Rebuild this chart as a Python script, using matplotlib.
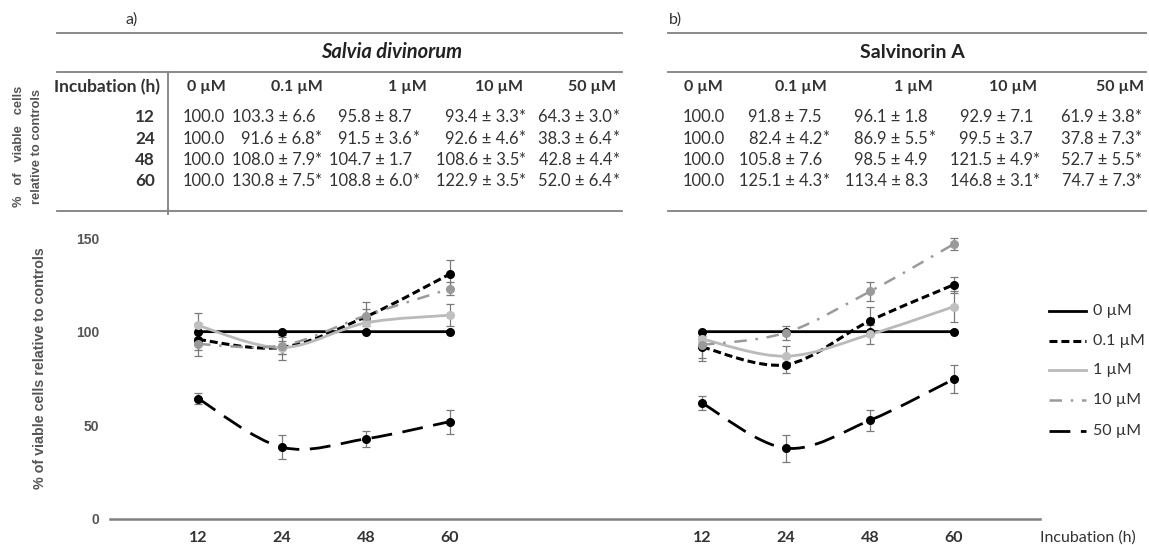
import numpy as np
import matplotlib
matplotlib.use('Agg')
import matplotlib.pyplot as plt
from matplotlib.lines import Line2D
from matplotlib.path import Path
from matplotlib.patches import PathPatch

# ---- data ----
hours = ['12', '24', '48', '60']
conc = ['0 µM', '0.1 µM', '1 µM', '10 µM', '50 µM']

# table text, one row per incubation time
sd_table = [
    ['100.0', '103.3 ± 6.6', '95.8 ± 8.7', '93.4 ± 3.3*', '64.3 ± 3.0*'],
    ['100.0', '91.6 ± 6.8*', '91.5 ± 3.6*', '92.6 ± 4.6*', '38.3 ± 6.4*'],
    ['100.0', '108.0 ± 7.9*', '104.7 ± 1.7', '108.6 ± 3.5*', '42.8 ± 4.4*'],
    ['100.0', '130.8 ± 7.5*', '108.8 ± 6.0*', '122.9 ± 3.5*', '52.0 ± 6.4*'],
]
sa_table = [
    ['100.0', '91.8 ± 7.5', '96.1 ± 1.8', '92.9 ± 7.1', '61.9 ± 3.8*'],
    ['100.0', '82.4 ± 4.2*', '86.9 ± 5.5*', '99.5 ± 3.7', '37.8 ± 7.3*'],
    ['100.0', '105.8 ± 7.6', '98.5 ± 4.9', '121.5 ± 4.9*', '52.7 ± 5.5*'],
    ['100.0', '125.1 ± 4.3*', '113.4 ± 8.3', '146.8 ± 3.1*', '74.7 ± 7.3*'],
]

# plotted values (one list per concentration, over the 4 times)
# left panel at 12 h: the chart shows the 0.1 / 1 µM points the other way round
sd_mean = [[100, 100, 100, 100],
           [95.8, 91.6, 108.0, 130.8],
           [103.3, 91.5, 104.7, 108.8],
           [93.4, 92.6, 108.6, 122.9],
           [64.3, 38.3, 42.8, 52.0]]
sd_err = [[0, 0, 0, 0],
          [8.7, 6.8, 7.9, 7.5],
          [6.6, 3.6, 1.7, 6.0],
          [3.3, 4.6, 3.5, 3.5],
          [3.0, 6.4, 4.4, 6.4]]
sa_mean = [[100, 100, 100, 100],
           [91.8, 82.4, 105.8, 125.1],
           [96.1, 86.9, 98.5, 113.4],
           [92.9, 99.5, 121.5, 146.8],
           [61.9, 37.8, 52.7, 74.7]]
sa_err = [[0, 0, 0, 0],
          [7.5, 4.2, 7.6, 4.3],
          [1.8, 5.5, 4.9, 8.3],
          [7.1, 3.7, 4.9, 3.1],
          [3.8, 7.3, 5.5, 7.3]]

# ---- styles ----
line_col = ['black', 'black', '#bababa', '#9a9a9a', 'black']
mark_col = ['black', 'black', '#c0c0c0', '#9a9a9a', 'black']
line_ls = ['-', (0, (2.6, 1.3)), '-', (0, (5, 3.5, 1, 3.5)), (0, (7.5, 3.8))]
line_lw = [2.0, 2.2, 2.0, 1.8, 2.0]

W, H = 1149, 545
TXT = '#333333'
GRID = '#808080'


def fx(x):
    return x / W


def fy(y):
    return 1 - y / H


def smooth(xs, ys):
    # excel style smoothed line through the points (bezier segments)
    pts = np.column_stack([xs, ys]).astype(float)
    n = len(pts)
    verts = [pts[0]]
    codes = [Path.MOVETO]
    for i in range(n - 1):
        p0 = pts[max(i - 1, 0)]
        p1 = pts[i]
        p2 = pts[i + 1]
        p3 = pts[min(i + 2, n - 1)]
        verts += [p1 + (p2 - p0) / 6, p2 - (p3 - p1) / 6, p2]
        codes += [Path.CURVE4] * 3
    return Path(verts, codes)


fig = plt.figure(figsize=(W / 100, H / 100), dpi=100)


def hline(y, x0, x1, **kw):
    style = dict(color=GRID, lw=1.3)
    style.update(kw)
    fig.add_artist(Line2D([fx(x0), fx(x1)], [fy(y), fy(y)], transform=fig.transFigure, **style))


def cell(x, y, s, bold=False):
    kw = dict(fontsize=11.9, family='Lato', color=TXT, va='center',
              weight='bold' if bold else 'normal')
    if s.endswith('*'):
        fig.text(fx(x), fy(y), s[:-1], ha='right', **kw)
        fig.text(fx(x + 0.5), fy(y), '*', ha='left', **kw)
    else:
        fig.text(fx(x), fy(y), s, ha='right', **kw)


row_y = [117, 138.5, 160, 181.5]

# ---- tables ----
tables = [
    dict(tab=sd_table, title='Salvia divinorum', italic=True, tx=392, x0=57, x1=622,
         lab='a)', lx=125, colx=[225, 315, 412, 519, 612], headx=[226, 323, 427, 523, 616]),
    dict(tab=sa_table, title='Salvinorin A', italic=False, tx=912, x0=668, x1=1146,
         lab='b)', lx=669, colx=[725, 822, 928, 1033, 1135], headx=[723, 827, 933, 1037, 1144]),
]
for t in tables:
    fig.text(fx(t['lx']), fy(20), t['lab'], fontsize=11.5, family='Lato', color=TXT,
             ha='left', va='center')
    for y in (33, 72, 211):
        hline(y, t['x0'], t['x1'])
    fig.text(fx(t['tx']), fy(52), t['title'], fontsize=14.5 if t['italic'] else 14,
             family='Lato', weight='bold',
             style='italic' if t['italic'] else 'normal', color='#222222',
             ha='center', va='center')
    for j, c in enumerate(conc):
        fig.text(fx(t['headx'][j]), fy(87), c, fontsize=11.5, family='Lato', weight='bold',
                 color=TXT, ha='right', va='center')
    for i, row in enumerate(t['tab']):
        for j, s in enumerate(row):
            cell(t['colx'][j], row_y[i], s)

fig.add_artist(Line2D([fx(168), fx(168)], [fy(72), fy(214)], color=GRID, lw=1.3,
                      transform=fig.transFigure))
fig.text(fx(160), fy(87), 'Incubation (h)', fontsize=12.5, family='Lato', weight='bold',
         color=TXT, ha='right', va='center')
for i, h in enumerate(hours):
    fig.text(fx(155), fy(row_y[i]), h, fontsize=12.3, family='Lato', weight='bold',
             color=TXT, ha='right', va='center')
fig.text(fx(19), fy(146), '%   of   viable   cells', rotation=90, fontsize=9.3,
         family='Liberation Sans', weight='bold', color='#555555', ha='center', va='center')
fig.text(fx(37), fy(146), 'relative to controls', rotation=90, fontsize=9.3,
         family='Liberation Sans', weight='bold', color='#555555', ha='center', va='center')

# ---- chart ----
ppu = (519 - 238) / 150.0          # pixels per % unit
top = 160
ax = fig.add_axes([fx(110), fy(519), fx(1040) - fx(110), top * ppu / H])
ax.set_ylim(0, top)
step = 84.0
ax.set_xlim((110 - 198) / step, (1040 - 198) / step)

left_x = np.arange(len(hours))
right_x = np.arange(len(hours)) + 6

for xs, means, errs in ((left_x, sd_mean, sd_err), (right_x, sa_mean, sa_err)):
    for k in range(len(conc)):
        ax.add_patch(PathPatch(smooth(xs, means[k]), fill=False, edgecolor=line_col[k],
                               lw=line_lw[k], linestyle=line_ls[k], capstyle='butt',
                               zorder=2 + k * 0.1))
    for k in range(len(conc)):
        if any(errs[k]):
            ax.errorbar(xs, means[k], yerr=errs[k], fmt='none', ecolor='#7a7a7a',
                        elinewidth=0.9, capsize=3.2, capthick=0.9, zorder=3)
        ax.plot(xs, means[k], 'o', ms=5.5, color=mark_col[k], mec=mark_col[k],
                ls='none', zorder=4)

ax.set_xticks(np.concatenate([left_x, right_x]))
ax.set_xticklabels(hours + hours, fontsize=11.5, family='Lato', weight='bold', color=TXT)
ax.set_yticks([0, 50, 100, 150])
ax.set_yticklabels(['0', '50', '100', '150'], fontsize=10, family='Liberation Sans',
                   weight='bold', color='#555555')
ax.tick_params(axis='both', length=0)
ax.tick_params(axis='x', pad=9)
ax.tick_params(axis='y', pad=8)
for s in ('top', 'right', 'left'):
    ax.spines[s].set_visible(False)
ax.spines['bottom'].set_color(GRID)
ax.spines['bottom'].set_linewidth(1.8)
ax.patch.set_alpha(0)

fig.text(fx(40), fy(368), '% of viable cells relative to controls', rotation=90,
         fontsize=10.3, family='Liberation Sans', weight='bold', color='#555555',
         ha='center', va='center')
fig.text(fx(1040), fy(538), 'Incubation (h)', fontsize=11.5, family='Lato', color=TXT,
         ha='left', va='center')

# legend, drawn by hand so rows land where they do in the original
leg_y = [311, 341, 370, 400, 431]
for k in range(len(conc)):
    hline(leg_y[k], 1049, 1086, color=line_col[k], lw=line_lw[k], ls=line_ls[k])
    fig.text(fx(1093), fy(leg_y[k]), conc[k], fontsize=11.5, family='Lato', color=TXT,
             ha='left', va='center')

fig.savefig('out.png', dpi=100)
